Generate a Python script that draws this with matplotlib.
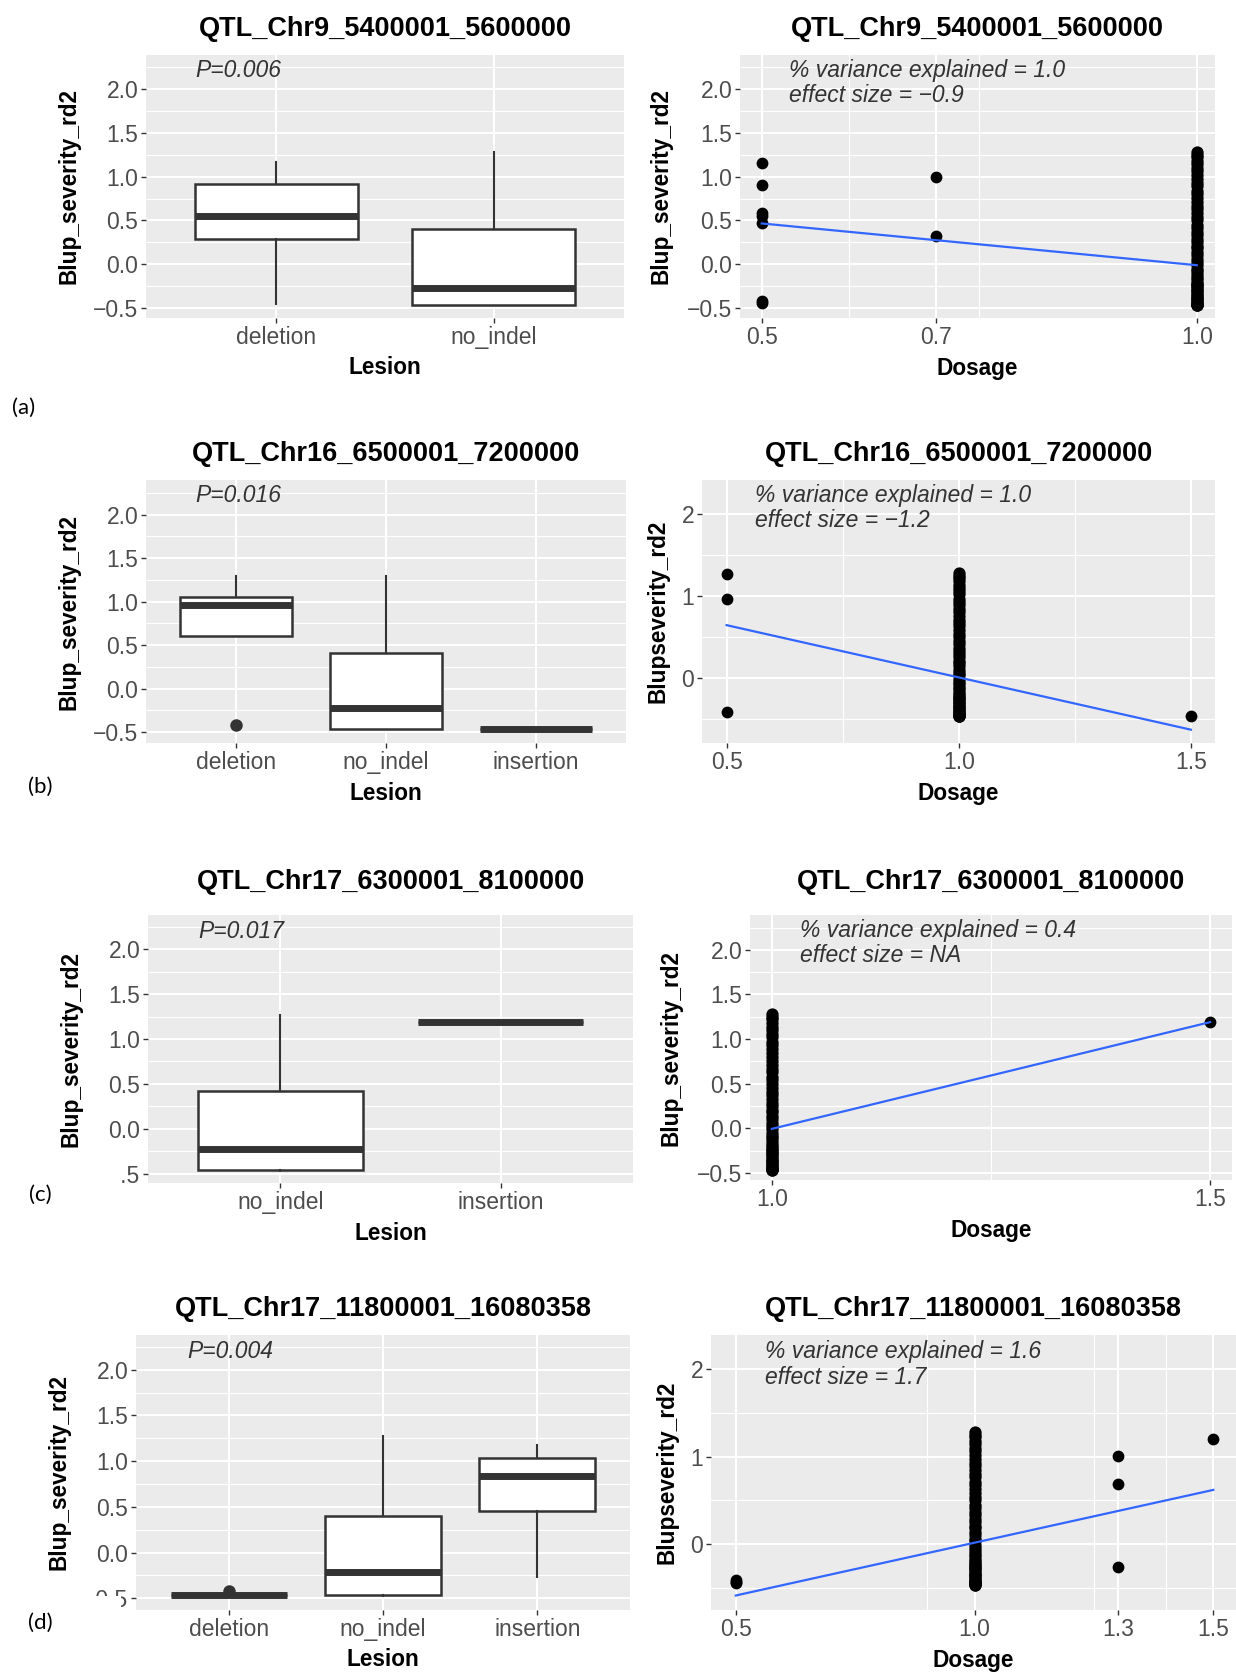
import matplotlib
matplotlib.use("Agg")
import matplotlib.pyplot as plt
from matplotlib.patches import Rectangle

plt.rcParams['font.family'] = ['Liberation Sans', 'DejaVu Sans']

W, H = 1236, 1673

# ---------------- data ----------------
titles = ["QTL_Chr9_5400001_5600000", "QTL_Chr16_6500001_7200000",
          "QTL_Chr17_6300001_8100000", "QTL_Chr17_11800001_16080358"]
p_values = ["P=0.006", "P=0.016", "P=0.017", "P=0.004"]
var_explained = ["1.0", "1.0", "0.4", "1.6"]
effect_size = ["\u22120.9", "\u22121.2", "NA", "1.7"]
panel_tags = ["(a)", "(b)", "(c)", "(d)"]
ylabels_right = ["Blup_severity_rd2", "Blupseverity_rd2", "Blup_severity_rd2", "Blupseverity_rd2"]

# lesion boxplots: (whisker low, q1, median, q3, whisker high)
lesion_a = ["deletion", "no_indel"]
box_a = [(-0.45, 0.29, 0.55, 0.92, 1.17), (-0.47, -0.46, -0.27, 0.40, 1.28)]
fliers_a = [[], []]

lesion_b = ["deletion", "no_indel", "insertion"]
box_b = [(0.60, 0.60, 0.96, 1.05, 1.29), (-0.47, -0.46, -0.22, 0.41, 1.29),
         (-0.46, -0.46, -0.46, -0.46, -0.46)]
fliers_b = [[-0.42], [], []]

lesion_c = ["no_indel", "insertion"]
box_c = [(-0.47, -0.46, -0.23, 0.42, 1.27), (1.19, 1.19, 1.19, 1.19, 1.19)]
fliers_c = [[], []]

lesion_d = ["deletion", "no_indel", "insertion"]
box_d = [(-0.46, -0.46, -0.46, -0.46, -0.46), (-0.48, -0.46, -0.21, 0.40, 1.27),
         (-0.27, 0.45, 0.84, 1.04, 1.18)]
fliers_d = [[-0.42], [], []]

# dosage scatter: the lines at dosage 1.0 share the no_indel lines
blup_dose1 = [-0.47, -0.465, -0.46, -0.45, -0.44, -0.43, -0.41, -0.40, -0.38, -0.36,
              -0.35, -0.33, -0.31, -0.29, -0.27, -0.25, -0.24, -0.22, -0.20, -0.17,
              -0.14, -0.11, -0.08, -0.05, -0.01, 0.03, 0.06, 0.10, 0.14, 0.18,
              0.21, 0.25, 0.29, 0.33, 0.37, 0.41, 0.45, 0.50, 0.54, 0.58,
              0.63, 0.67, 0.71, 0.76, 0.80, 0.84, 0.89, 0.93, 0.97, 1.02,
              1.06, 1.10, 1.14, 1.18, 1.22, 1.25, 1.28]

dose_a = [0.5, 0.5, 0.5, 0.5, 0.5, 0.5, 0.5, 0.7, 0.7]
blup_a = [1.16, 0.91, 0.59, 0.55, 0.47, -0.42, -0.44, 1.00, 0.32]
fit_a = ([0.5, 1.0], [0.466, -0.011])

dose_b = [0.5, 0.5, 0.5, 1.5]
blup_b = [1.27, 0.96, -0.42, -0.46]
fit_b = ([0.5, 1.5], [0.645, -0.633])

dose_c = [1.5]
blup_c = [1.19]
fit_c = ([1.0, 1.5], [-0.005, 1.19])

dose_d = [0.5, 0.5, 0.5, 1.3, 1.3, 1.3, 1.5]
blup_d = [-0.41, -0.43, -0.45, 1.01, 0.69, -0.26, 1.20]
fit_d = ([0.5, 1.5], [-0.59, 0.618])

dose_ticks = [[0.5, 0.7, 1.0], [0.5, 1.0, 1.5], [1.0, 1.5], [0.5, 1.0, 1.3, 1.5]]
dose_minor = [[0.6, 0.75], [0.75, 1.25], [1.25], [0.9, 1.25, 1.4]]

# ---------------- layout (pixels: left, top, right, bottom) ----------------
box_rects = [(146, 55, 624, 318), (146, 480, 626, 743), (148, 915, 633, 1183), (136, 1335, 630, 1610)]
scat_rects = [(740, 55, 1215, 318), (702, 480, 1215, 743), (750, 915, 1232, 1180), (711, 1335, 1236, 1610)]
box_ylims = [(-0.614, 2.39), (-0.626, 2.40), (-0.603, 2.38), (-0.628, 2.38)]
scat_ylims = [(-0.614, 2.39), (-0.796, 2.42), (-0.578, 2.39), (-0.756, 2.39)]
scat_xlims = [(0.475, 1.021), (0.447, 1.552), (0.975, 1.525), (0.448, 1.5475)]
title_y = [29, 454, 882, 1309]
tag_pos = [(24, 408), (40, 787), (40, 1195), (40, 1623)]

BG = "#EBEBEB"
DARK = "#333333"
TICKC = "#4D4D4D"

fig = plt.figure(figsize=(W / 100, H / 100), dpi=100)


def add_axes_px(rect):
    l, t, r, b = rect
    return fig.add_axes([l / W, 1 - b / H, (r - l) / W, (b - t) / H])


def style(ax, rect, ylab, ylab_off, xlab, title, ty):
    ax.set_facecolor(BG)
    for s in ax.spines.values():
        s.set_visible(False)
    ax.set_axisbelow(True)
    ax.grid(which="major", color="white", lw=1.5)
    ax.grid(which="minor", color="white", lw=0.8)
    ax.tick_params(which="major", length=3.6, width=1.0, color=DARK,
                   labelsize=16.5, labelcolor=TICKC)
    ax.tick_params(axis="x", pad=2.5)
    ax.tick_params(axis="y", pad=2)
    ax.tick_params(which="minor", length=0)
    l, t, r, b = rect
    w, h = r - l, b - t
    ax.set_xlabel(xlab, fontsize=16.3, fontweight="bold")
    ax.xaxis.set_label_coords(0.5, -50 / h)
    ax.xaxis.label.set_va("center")
    ax.set_ylabel(ylab, fontsize=16.3, fontweight="bold")
    ax.yaxis.set_label_coords(-ylab_off / w, 0.5)
    ax.yaxis.label.set_va("center")
    fig.text((l + r) / 2 / W, 1 - ty / H, title, ha="center", va="center",
             fontsize=19.5, fontweight="bold", color="black")


box_sets = [(lesion_a, box_a, fliers_a), (lesion_b, box_b, fliers_b),
            (lesion_c, box_c, fliers_c), (lesion_d, box_d, fliers_d)]
scat_sets = [(dose_a, blup_a, fit_a), (dose_b, blup_b, fit_b),
             (dose_c, blup_c, fit_c), (dose_d, blup_d, fit_d)]

y_box_ticks = [-0.5, 0.0, 0.5, 1.0, 1.5, 2.0]
y_box_labels = ["\u22120.5", "0.0", "0.5", "1.0", "1.5", "2.0"]
y_box_minor = [-0.25, 0.25, 0.75, 1.25, 1.75, 2.25]

for i in range(4):
    # ---- lesion boxplot ----
    cats, stats, fl = box_sets[i]
    ax = add_axes_px(box_rects[i])
    pos = list(range(1, len(cats) + 1))
    bstats = []
    for name, s, f in zip(cats, stats, fl):
        bstats.append(dict(label=name, whislo=s[0], q1=s[1], med=s[2], q3=s[3],
                           whishi=s[4], fliers=f))
    ax.bxp(bstats, positions=pos, widths=0.75, patch_artist=True, showcaps=False,
           boxprops=dict(facecolor="white", edgecolor=DARK, linewidth=1.8),
           medianprops=dict(color=DARK, linewidth=5, solid_capstyle="butt"),
           whiskerprops=dict(color=DARK, linewidth=1.5),
           flierprops=dict(marker="o", markerfacecolor=DARK, markeredgecolor="none",
                           markersize=9))
    ax.set_xlim(0.4, len(cats) + 0.6)
    ax.set_ylim(*box_ylims[i])
    ax.set_xticks(pos)
    ax.set_xticklabels(cats)
    ax.set_yticks(y_box_ticks)
    ax.set_yticklabels(y_box_labels)
    ax.set_yticks(y_box_minor, minor=True)
    style(ax, box_rects[i], "Blup_severity_rd2", 77, "Lesion", titles[i], title_y[i])
    ax.text(0.103, 0.94, p_values[i], transform=ax.transAxes, ha="left", va="center",
            fontsize=16.5, style="italic", color=DARK)

    # ---- dosage scatter ----
    dx, dy, fit = scat_sets[i]
    ax2 = add_axes_px(scat_rects[i])
    ax2.scatter([1.0] * len(blup_dose1), blup_dose1, s=78, color="black", linewidths=0, zorder=3)
    ax2.scatter(dx, dy, s=72, color="black", linewidths=0, zorder=3)
    ax2.plot(fit[0], fit[1], color="#3366FF", lw=1.6, zorder=4)
    ax2.set_xlim(*scat_xlims[i])
    ax2.set_ylim(*scat_ylims[i])
    ax2.set_xticks(dose_ticks[i])
    ax2.set_xticklabels([f"{v:.1f}" for v in dose_ticks[i]])
    ax2.set_xticks(dose_minor[i], minor=True)
    if i in (1, 3):
        ax2.set_yticks([0, 1, 2])
        ax2.set_yticklabels(["0", "1", "2"])
        ax2.set_yticks([-0.5, 0.5, 1.5], minor=True)
        yoff = 44
    else:
        ax2.set_yticks(y_box_ticks)
        ax2.set_yticklabels(y_box_labels)
        ax2.set_yticks(y_box_minor, minor=True)
        yoff = 79
    style(ax2, scat_rects[i], ylabels_right[i], yoff, "Dosage", titles[i], title_y[i])
    ax2.text(0.103, 0.94, "% variance explained = " + var_explained[i], transform=ax2.transAxes,
             ha="left", va="center", fontsize=16.5, style="italic", color=DARK)
    ax2.text(0.103, 0.846, "effect size = " + effect_size[i], transform=ax2.transAxes,
             ha="left", va="center", fontsize=16.5, style="italic", color=DARK)

# white label boxes of the panel tags hide part of two tick labels
for (x0, y0, x1, y1) in [(0, 1162, 120, 1215), (0, 1596, 121, 1650)]:
    fig.add_artist(Rectangle((x0 / W, 1 - y1 / H), (x1 - x0) / W, (y1 - y0) / H,
                             transform=fig.transFigure, facecolor="white",
                             edgecolor="none", zorder=5))

for tag, (tx, ty) in zip(panel_tags, tag_pos):
    fig.text(tx / W, 1 - ty / H, tag, ha="center", va="center", fontsize=16,
             family=["Lato", "DejaVu Sans"], color="black", zorder=6)

fig.savefig("out.png", dpi=100)
